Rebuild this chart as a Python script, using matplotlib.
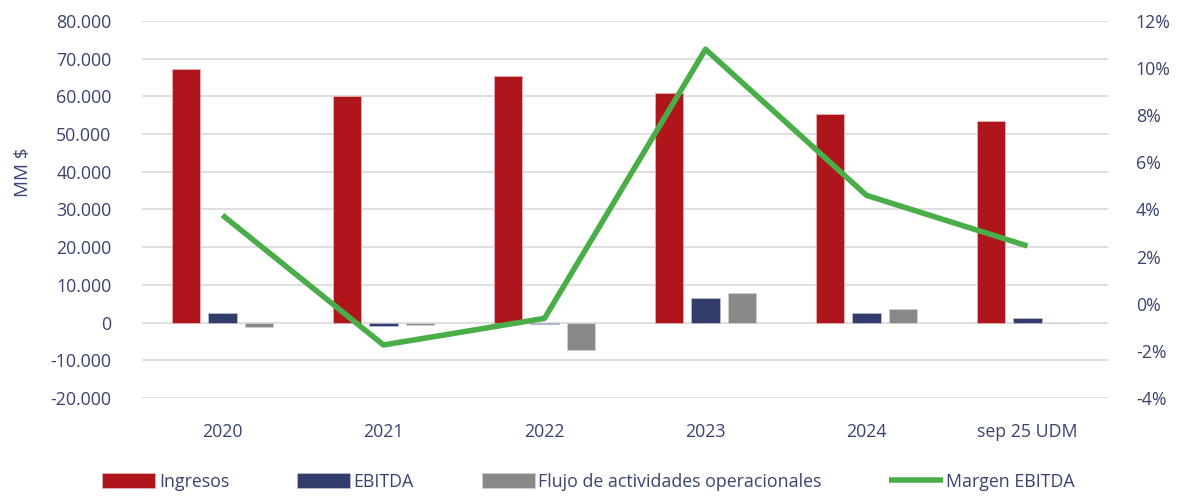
import matplotlib.pyplot as plt
import matplotlib.ticker as mticker
import numpy as np

# Data (MM $ and %)
periodos = ['2020', '2021', '2022', '2023', '2024', 'sep 25 UDM']
ingresos = [67400, 60000, 65500, 61000, 55400, 53600]
ebitda = [2500, -1000, -300, 6600, 2500, 1200]
flujo = [-1200, -700, -7400, 7800, 3600, -200]
margen = [3.76, -1.75, -0.62, 10.8, 4.6, 2.45]

c_ing = '#AE161C'
c_ebitda = '#323D6B'
c_flujo = '#898989'
c_margen = '#4AAE48'
txt = '#3A4270'

plt.rcParams['font.family'] = ['Open Sans', 'DejaVu Sans']

fig = plt.figure(figsize=(11.77, 4.98), dpi=100)
ax = fig.add_axes([142/1177, 1 - 398/498, (1108 - 142)/1177, 377/498])
ax2 = ax.twinx()

x = np.arange(len(periodos))
w = 0.174
step = 0.224
ax.bar(x - step, ingresos, w, color=c_ing, edgecolor='#E8B0B2', linewidth=0.6, label='Ingresos', zorder=3)
ax.bar(x, ebitda, w, color=c_ebitda, edgecolor='#B8BCD0', linewidth=0.6, label='EBITDA', zorder=3)
ax.bar(x + step, flujo, w, color=c_flujo, edgecolor='#D0D0D0', linewidth=0.6,
       label='Flujo de actividades operacionales', zorder=3)
ax2.plot(x, margen, color=c_margen, lw=4, label='Margen EBITDA', solid_capstyle='butt')

ax.set_xlim(-0.5, len(periodos) - 0.5)
ax.set_ylim(-20000, 80000)
ax.set_yticks(np.arange(-20000, 80001, 10000))
ax.yaxis.set_major_formatter(mticker.FuncFormatter(lambda v, p: f'{v:,.0f}'.replace(',', '.')))
ax2.set_ylim(-4, 12)
ax2.set_yticks(np.arange(-4, 13, 2))
ax2.yaxis.set_major_formatter(mticker.FuncFormatter(lambda v, p: f'{v:.0f}%'))

ax.set_xticks(x)
ax.set_xticklabels(periodos)
ax.grid(axis='y', color='#D9D9D9', lw=1.2, zorder=0)
ax.set_axisbelow(True)

for a in (ax, ax2):
    for s in a.spines.values():
        s.set_visible(False)
    a.tick_params(length=0, colors=txt, labelsize=12.8)
ax.tick_params(axis='x', pad=18)
ax.tick_params(axis='y', pad=22)
ax2.tick_params(axis='y', pad=20)

ax.set_ylabel('MM $', color=txt, fontsize=13.5)
ax.yaxis.set_label_coords(-0.114, 0.6)

h1, l1 = ax.get_legend_handles_labels()
h2, l2 = ax2.get_legend_handles_labels()
leg = fig.legend(h1 + h2, l1 + l2, loc='center', bbox_to_anchor=(0.5, 1 - 482/498), ncol=4,
                 frameon=False, handlelength=3.0, handleheight=0.9, handletextpad=0.2,
                 columnspacing=3.8, fontsize=12.8)
for t in leg.get_texts():
    t.set_color(txt)

fig.savefig('out.png', dpi=100)
